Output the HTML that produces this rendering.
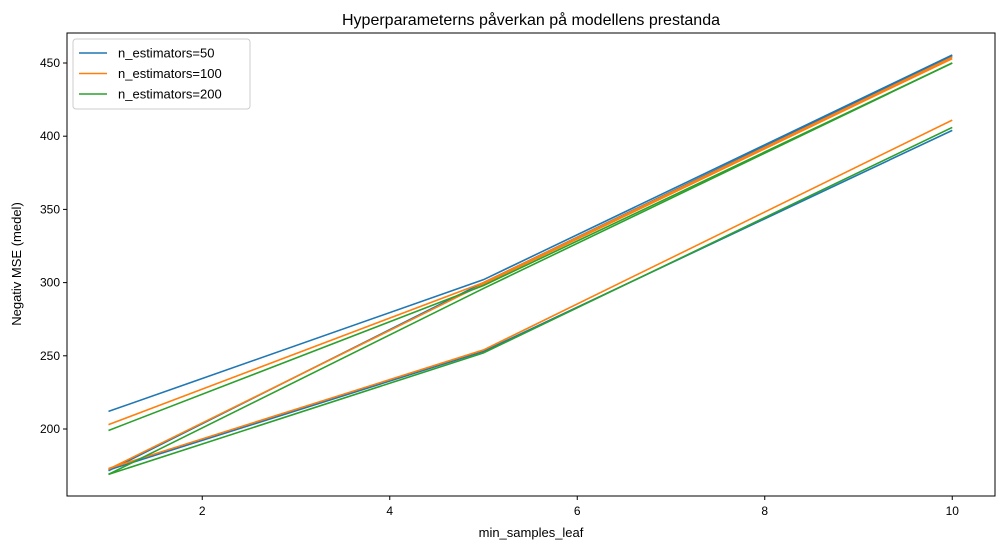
<!DOCTYPE html>
<html><head><meta charset="utf-8"><style>
body{margin:0;background:#fff;font-family:"Liberation Sans","DejaVu Sans",sans-serif;}
</style></head><body>
<svg width="1005" height="549" xmlns="http://www.w3.org/2000/svg">
<text x="531" y="25" text-anchor="middle" font-size="16">Hyperparameterns påverkan på modellens prestanda</text>
<g id="plot"></g>
<rect x="67" y="33" width="928" height="463" fill="none" stroke="#000" stroke-width="1"/>
<text x="531" y="537" text-anchor="middle" font-size="13">min_samples_leaf</text>
<text transform="translate(21,264) rotate(-90)" text-anchor="middle" font-size="13">Negativ MSE (medel)</text>
<g id="legend">
<rect x="73" y="39" width="177" height="70" rx="3" fill="#fff" stroke="#ccc"/>
</g>
</svg>
<script>
const xs=[1,5,10];
const xTicks=[2,4,6,8,10];
const yTicks=[200,250,300,350,400,450];
const seriesNames=["n_estimators=50","n_estimators=100","n_estimators=200"];
const colors=["#1f77b4","#ff7f0e","#2ca02c"];
const blue=[[212,302,455.5],[172,253,404],[171.5,300,455]];
const orange=[[203,300,454],[173,254,411],[172.5,299,453]];
const green=[[199,298,450],[169,252,406],[169,296,450]];
const groups=[blue,orange,green];
const NS="http://www.w3.org/2000/svg";
const X=v=>108.5+(v-1)*93.75;
const Y=v=>429-(v-200)*1.464;
const svg=document.querySelector('svg');
const plot=document.getElementById('plot');
function mk(t,a,p){const e=document.createElementNS(NS,t);for(const k in a)e.setAttribute(k,a[k]);(p||svg).appendChild(e);return e;}
xTicks.forEach(t=>{const g=mk('g',{});


mk('line',{x1:X(t),x2:X(t),y1:496,y2:500,stroke:'#000'},g);
const tx=mk('text',{x:X(t),y:515,'text-anchor':'middle','font-size':12},g);tx.textContent=t;});
yTicks.forEach(t=>{const g=mk('g',{});


mk('line',{x1:63,x2:67,y1:Y(t),y2:Y(t),stroke:'#000'},g);
const tx=mk('text',{x:60,y:Y(t)+4,'text-anchor':'end','font-size':12},g);tx.textContent=t;});
groups.forEach((grp,gi)=>grp.forEach((vals,li)=>{
const p=mk('polyline',{points:vals.map((v,i)=>X(xs[i])+','+Y(v)).join(' '),fill:'none',stroke:colors[gi],'stroke-width':1.6},plot);


}));
const lg=document.getElementById('legend');
seriesNames.forEach((n,i)=>{const y=53+i*20.5;
const g=mk('g',{},lg);


mk('line',{x1:79,x2:107,y1:y,y2:y,stroke:colors[i],'stroke-width':1.6},g);
const t=mk('text',{x:118,y:y+4.5,'font-size':13},g);t.textContent=n;});
</script>
</body></html>
